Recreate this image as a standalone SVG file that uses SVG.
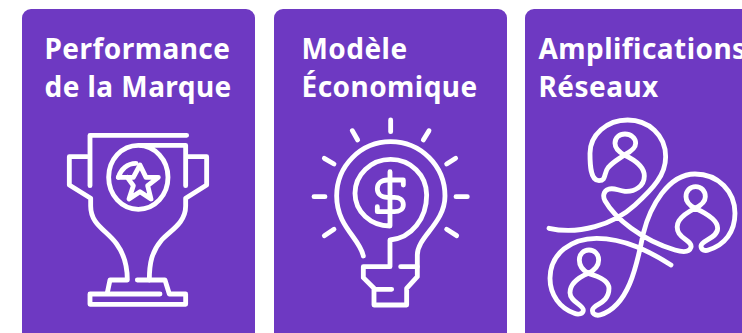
<svg xmlns="http://www.w3.org/2000/svg" width="742" height="333" viewBox="0 0 742 333">
<style>
.card{fill:#6e39c2}
.t{font-family:"Noto Sans",sans-serif;font-weight:700;font-size:28px;letter-spacing:.45px;fill:#fff}
.i{fill:none;stroke:#fff;stroke-width:14.5;stroke-linecap:round;stroke-linejoin:round}
</style>
<rect width="742" height="333" fill="#fff"/>
<g id="card-marque">
<rect class="card" x="22" y="9" width="233" height="340" rx="9"/>
<text class="t" x="44.5" y="58.8">Performance</text>
<text class="t" x="44.5" y="96.8">de la Marque</text>
<g class="i" transform="translate(50 120) scale(.3333)">
<path d="M410 46H120V197"/>
<path d="M407 197V76H265C215 76 176 119 176 172C176 225 215 268 265 268C315 268 354 225 354 172C354 120 315 76 265 76"/>
<path d="M205 172C212 148 232 130 258 130"/>
<path d="M205 172H250L270 135L288 172H325L293 197L303 237L270 215L237 237L250 197L232 172"/>
<path d="M112 110H58V195L122 235V258C122 315 170 330 200 372C222 402 232 440 232 480H180L172 518"/>
<path d="M330 522H120V553H407V522H358L345 480H262"/>
<path d="M298 480C298 430 305 395 335 360C360 332 407 310 407 258V235L470 195V110H415"/>
</g>
</g>
<g id="card-modele">
<rect class="card" x="274" y="9" width="233" height="340" rx="9"/>
<text class="t" x="301.5" y="58.8">Modèle</text>
<text class="t" x="301.5" y="96.8">Économique</text>
<g class="i" transform="translate(300 110) scale(.3333)">
<path d="M272 30V65M157 62L173 90M73 145L102 162M42 260H75M73 377L102 358M387 62L370 90M467 145L440 162M468 260H502M440 358L470 377"/>
<path d="M190 438C180 385 110 350 110 258C110 168 182 95 272 95C362 95 435 168 435 258C435 340 352 380 352 435V500L320 535V585H222V535L190 503V470H270V390C335 385 380 325 380 255C380 195 332 148 272 148C212 148 165 195 165 250C165 305 212 348 270 348V185"/>
<path d="M302 470H352M222 538H275"/>
<path d="M310 225V210H262C245 210 232 220 232 236C232 252 245 262 262 262H283C298 262 310 270 310 284C310 298 298 305 283 305H232V290"/>
</g>
</g>
<g id="card-amplifications">
<rect class="card" x="525" y="9" width="233" height="340" rx="9"/>
<text class="t" x="538.5" y="58.8">Amplifications</text>
<text class="t" x="538.5" y="96.8">Réseaux</text>
<path class="i" transform="translate(535 110) scale(.3333)" d="M42 355C130 375 235 345 300 285C355 235 392 195 392 140C392 75 340 30 278 30C215 30 165 75 165 130C165 160 165 212 192 212C215 212 205 190 220 172C235 155 250 148 268 135C250 125 240 115 240 100C240 83 253 72 270 72C287 72 302 83 302 100C302 115 288 125 268 135C300 150 328 170 328 198C328 228 300 246 270 244C245 240 235 232 220 238C205 243 203 260 210 272C240 325 320 390 420 420C440 426 462 430 468 412C472 395 445 390 432 370C418 345 430 320 480 295C462 285 453 273 453 260C453 243 465 230 482 230C499 230 511 243 511 260C511 273 500 285 480 295C525 315 548 335 548 355C548 385 500 390 498 408C498 420 510 424 520 420C570 405 600 365 600 310C600 245 550 192 480 192C400 192 345 290 325 370C305 470 280 590 195 615C180 618 170 610 173 598C178 582 222 580 222 535C222 515 195 500 160 490C142 480 133 465 133 450C133 433 145 420 162 420C179 420 191 433 191 450C191 465 180 480 160 490C125 505 105 525 105 548C105 575 145 585 145 600C145 612 130 615 118 610C75 595 45 555 45 505C45 430 110 385 185 385C270 385 345 425 408 465"/>
</g>
</svg>
